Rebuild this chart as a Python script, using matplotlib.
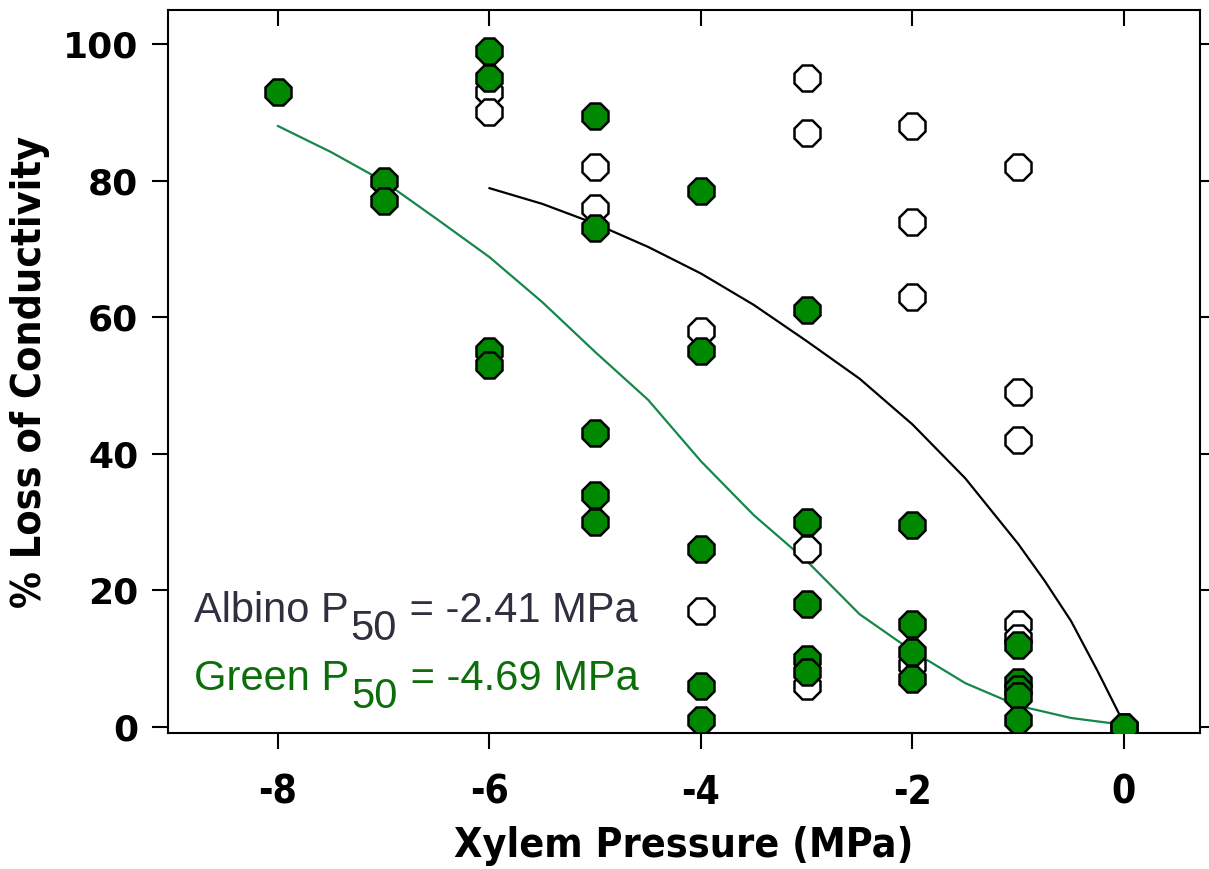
import matplotlib.pyplot as plt
from matplotlib import font_manager as fm

# measured points (% loss of conductivity at each xylem pressure)
green_x = [-8, -7, -7, -6, -6, -6, -6, -5, -5, -5, -5, -5,
           -4, -4, -4, -4, -4, -3, -3, -3, -3, -3,
           -2, -2, -2, -2, -1, -1, -1, -1, -1, 0]
green_y = [93, 80, 77, 99, 95, 55, 53, 89.5, 73, 43, 34, 30,
           78.5, 55, 26, 6, 1, 61, 30, 18, 10, 8,
           29.5, 15, 11, 7, 12, 6.5, 5.5, 4.5, 1, 0]

albino_x = [-6, -6, -5, -5, -4, -4, -3, -3, -3, -3,
            -2, -2, -2, -2, -1, -1, -1, -1, -1, 0]
albino_y = [93, 90, 82, 76, 58, 17, 95, 87, 26, 6,
            88, 74, 63, 9, 82, 49, 42, 15, 13, 0]

# fitted curves
green_fit_x = [-8, -7.5, -7, -6.5, -6, -5.5, -5, -4.5, -4, -3.5, -3, -2.5, -2, -1.5, -1, -0.5, 0]
green_fit_y = [88.0, 84.2, 79.9, 74.4, 68.8, 62.2, 54.9, 47.9, 38.9, 31.0, 24.3, 16.5, 11.1, 6.4, 3.1, 1.3, 0.3]

black_fit_x = [-6, -5.5, -5, -4.5, -4, -3.5, -3, -2.5, -2, -1.5, -1, -0.75, -0.5, -0.25, 0]
black_fit_y = [78.9, 76.6, 73.7, 70.3, 66.4, 61.8, 56.5, 51.0, 44.3, 36.4, 26.8, 21.4, 15.5, 8.2, 0.5]

plt.rcParams['axes.unicode_minus'] = False

# narrow bold face for the axis titles if one is installed
names = {f.name for f in fm.fontManager.ttflist}
narrow = dict(family=['Liberation Sans', 'DejaVu Sans'])
label_size, xtick_size = 30, 29
if 'Liberation Sans Narrow' in names:
    narrow = dict(family=['Liberation Sans Narrow', 'DejaVu Sans'])
    label_size, xtick_size = 35, 31
elif any(f.name == 'DejaVu Sans' and f.stretch == 'condensed' for f in fm.fontManager.ttflist):
    narrow = dict(family=['DejaVu Sans'], stretch='condensed')
    label_size, xtick_size = 29.5, 28

fig = plt.figure(figsize=(12.09, 8.69), dpi=100)
ax = fig.add_axes([0.139, 0.1565, 0.8536, 0.832])

ax.plot(black_fit_x, black_fit_y, color='black', lw=1.6, zorder=2)
ax.plot(green_fit_x, green_fit_y, color='#15874a', lw=1.6, zorder=2)
ax.plot(albino_x, albino_y, ls='none', marker='8', ms=19.5, mfc='white', mec='black', mew=1.8, zorder=3)
ax.plot(green_x, green_y, ls='none', marker='8', ms=19.5, mfc='#008800', mec='black', mew=1.8, zorder=4)

ax.set_xlim(-9.04, 0.72)
ax.set_ylim(-0.9, 105)
ax.set_xticks([-8, -6, -4, -2, 0])
ax.set_yticks([0, 20, 40, 60, 80, 100])

for s in ax.spines.values():
    s.set_linewidth(1.5)
ax.tick_params(axis='both', width=1.5, length=11.5, direction='out')
ax.tick_params(axis='x', top=True, pad=18)
ax.tick_params(axis='y', right=True, pad=10)
# ticks on top and right spines point inward
for t in ax.xaxis.get_major_ticks():
    t.tick2line.set_marker(3)
for t in ax.yaxis.get_major_ticks():
    t.tick2line.set_marker(1)

for lab in ax.get_yticklabels():
    lab.set_fontfamily('DejaVu Sans')
    lab.set_fontweight('bold')
    lab.set_fontsize(26)
for lab in ax.get_xticklabels():
    lab.set(**narrow)
    lab.set_fontweight('bold')
    lab.set_fontsize(xtick_size)

ax.set_xlabel('Xylem Pressure (MPa)', weight='bold', fontsize=label_size, labelpad=10, **narrow)
ax.set_ylabel('% Loss of Conductivity', weight='bold', fontsize=label_size, labelpad=9, **narrow)

regular = ['Liberation Sans', 'DejaVu Sans']


def p50_label(x, y, name, value, color):
    t1 = ax.text(x, y, name + ' P', color=color, fontsize=30, family=regular, va='bottom', ha='left')
    t2 = ax.annotate('50', xy=(1, 0), xycoords=t1, xytext=(1, -13), textcoords='offset points',
                     color=color, fontsize=30, family=regular, va='bottom', ha='left')
    ax.annotate(' = ' + value + ' MPa', xy=(1, 0), xycoords=t2, xytext=(1, 13), textcoords='offset points',
                color=color, fontsize=30, family=regular, va='bottom', ha='left')


p50_label(-8.79, 14.0, 'Albino', '-2.41', '#2f2f3f')
p50_label(-8.79, 4.1, 'Green', '-4.69', '#0b6e0b')

fig.savefig('out.png', dpi=100)
